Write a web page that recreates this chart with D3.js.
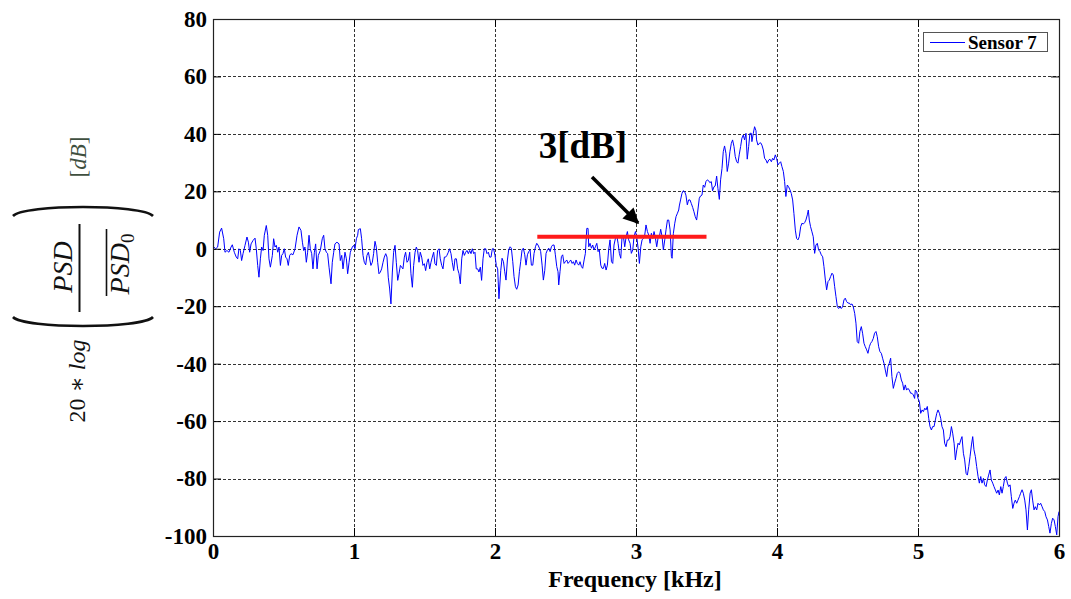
<!DOCTYPE html>
<html>
<head>
<meta charset="utf-8">
<script src="https://cdn.jsdelivr.net/npm/d3@7"></script>
<style>
  html, body { margin: 0; padding: 0; background: #fff; }
  svg { display: block; }
</style>
</head>
<body>
<svg id="chart" width="1071" height="599"></svg>
<script>
// Sensor 7 normalised power spectral density, 20*log(PSD / mean PSD0) in dB
const freqKHz = [
  0.000,0.019,0.033,0.047,0.061,0.076,0.085,0.099,0.113,0.128,0.137,0.151,0.165,0.175,0.184,0.194,0.203,0.213,0.227,0.241,
  0.251,0.260,0.270,0.284,0.298,0.307,0.317,0.326,0.336,0.345,0.355,0.364,0.378,0.388,0.397,0.407,0.421,0.430,0.440,0.449,
  0.459,0.468,0.478,0.487,0.496,0.506,0.515,0.525,0.534,0.544,0.553,0.567,0.582,0.596,0.610,0.624,0.634,0.643,0.652,0.662,
  0.671,0.681,0.690,0.700,0.709,0.719,0.728,0.738,0.747,0.761,0.775,0.785,0.794,0.804,0.813,0.823,0.837,0.846,0.856,0.865,
  0.879,0.894,0.903,0.913,0.922,0.936,0.946,0.955,0.965,0.974,0.988,0.998,1.007,1.017,1.026,
  1.031,1.045,1.054,1.064,1.073,1.083,1.092,1.102,1.111,1.120,1.130,1.139,1.149,1.158,1.168,1.177,1.187,1.196,1.206,1.215,
  1.225,1.234,1.243,1.253,1.262,1.272,1.281,1.291,1.300,1.310,1.319,1.329,1.338,1.347,1.357,1.366,1.376,1.385,1.395,1.404,
  1.414,1.423,1.433,1.442,1.451,1.461,1.470,1.480,1.489,1.499,1.508,1.518,1.527,1.537,1.546,1.555,1.565,1.574,1.584,1.593,
  1.603,1.612,1.622,1.631,1.641,1.650,1.659,1.669,1.678,1.688,1.697,1.707,1.716,1.726,1.735,1.745,1.754,1.764,1.773,1.783,
  1.792,1.801,1.811,1.820,1.830,1.839,1.849,1.858,1.867,1.877,1.886,1.896,1.905,1.915,1.924,1.934,1.943,1.953,1.962,1.972,
  1.981,1.990,2.000,2.009,2.019,2.028,
  2.041,2.050,2.060,2.069,2.078,2.088,2.097,2.107,2.116,2.126,2.135,2.145,2.154,2.164,2.173,2.182,2.192,2.201,2.211,2.220,
  2.230,2.239,2.249,2.258,2.268,2.277,2.287,2.296,2.305,2.315,2.324,2.334,2.343,2.353,2.362,2.372,2.381,2.391,2.400,2.409,
  2.419,2.428,2.438,2.447,2.452,2.461,2.471,2.480,2.490,2.499,2.509,2.518,2.528,2.537,2.547,2.556,2.565,2.575,2.584,2.594,
  2.603,2.613,2.622,2.632,2.641,2.651,2.660,2.665,2.674,2.684,2.693,2.703,2.712,2.722,2.731,2.740,2.750,2.759,2.769,2.778,
  2.788,2.797,2.806,2.816,2.826,2.835,2.844,2.854,2.863,2.873,2.882,2.892,2.901,2.911,2.920,2.930,2.939,2.948,2.958,2.967,
  2.977,2.986,2.996,3.005,3.015,3.024,3.034,3.043,3.053,3.062,3.071,3.081,3.090,3.100,3.109,3.119,3.128,3.138,3.147,3.156,
  3.166,3.175,3.185,3.194,3.204,3.213,3.223,3.232,3.242,3.251,3.256,3.265,3.275,3.284,3.294,3.303,
  3.307,3.316,3.326,3.335,3.345,3.354,3.364,3.373,3.383,3.392,3.402,3.411,3.420,3.430,3.439,3.449,3.458,3.468,3.477,3.487,
  3.496,3.506,3.515,3.524,3.534,3.543,3.553,3.562,3.572,3.581,3.591,3.600,3.610,3.619,3.628,3.638,3.647,3.657,3.666,3.676,
  3.685,3.695,3.704,3.714,3.723,3.732,3.742,3.751,3.761,3.770,3.780,3.789,3.799,3.808,3.818,3.822,3.832,3.841,3.851,3.855,
  3.865,3.874,3.884,3.893,3.903,3.912,3.922,3.931,3.941,3.950,3.960,3.969,3.978,3.988,3.997,4.007,4.016,4.026,4.035,4.045,
  4.054,4.063,4.073,4.082,4.092,4.101,4.111,4.120,4.130,4.139,4.149,4.158,4.168,4.177,4.186,4.196,4.205,4.215,4.222,4.229,
  4.238,4.248,4.257,4.267,4.276,4.286,4.295,4.305,4.314,4.324,4.333,4.343,4.352,4.362,4.371,4.380,4.390,4.399,4.409,4.418,
  4.428,4.437,4.447,4.456,4.465,4.475,4.484,4.494,4.503,4.513,4.522,4.532,4.541,4.551,4.560,4.569,4.579,4.588,4.598,4.607,
  4.617,4.626,4.636,4.645,4.655,4.664,4.673,4.683,4.692,4.702,4.711,4.721,4.730,4.740,4.749,4.759,4.768,4.778,4.787,4.796,
  4.806,4.815,4.825,4.834,4.844,4.853,4.863,4.872,4.882,4.891,4.900,4.910,4.919,4.929,4.938,4.948,4.957,4.967,4.976,
  4.981,4.991,5.000,5.010,5.019,5.029,5.038,5.048,5.057,5.066,5.076,5.085,5.095,5.104,5.114,5.123,5.133,5.142,5.152,5.161,
  5.170,5.180,5.189,5.199,5.208,5.218,5.227,5.237,5.246,5.256,5.265,5.275,5.284,5.293,5.303,5.312,5.322,5.331,5.341,5.350,
  5.360,5.369,5.379,5.388,5.397,5.407,5.416,5.426,5.435,5.445,5.454,5.464,5.473,5.483,5.492,5.501,5.511,5.520,5.530,5.539,
  5.549,5.558,5.568,5.577,5.587,5.596,5.605,5.615,5.624,5.634,5.643,5.653,5.662,5.672,5.681,5.690,5.700,5.709,5.719,5.728,
  5.738,5.747,5.757,5.766,5.776,5.785,5.795,5.804,5.813,5.823,5.832,5.842,5.851,5.861,5.870,5.880,5.889,5.899,5.908,5.918,
  5.927,5.936,5.946,5.955,5.965,5.974,5.984,5.993,6.000
];
const levelDb = [
  0.9,0.0,0.6,5.8,7.2,3.5,-1.2,-0.6,-1.2,0.6,1.4,-1.2,-2.9,-3.5,0.0,-0.6,-4.1,-1.7,1.2,4.1,
  2.3,-1.2,1.7,2.9,3.7,0.0,-5.8,-9.9,-3.5,0.6,-0.6,4.7,8.1,4.7,-3.5,-6.4,-2.3,3.5,0.6,1.2,
  -1.2,0.6,-5.8,-2.3,-1.7,0.0,-2.9,-3.5,-5.8,-2.3,-1.7,-2.1,0.0,4.7,7.6,6.4,2.3,-0.6,0.6,-4.7,
  -1.2,4.7,0.0,-1.7,-7.0,-1.2,1.7,-7.0,-2.3,-0.6,3.5,4.7,0.0,-1.2,-1.7,-6.4,-12.2,-4.7,-1.2,1.7,
  2.3,1.7,-4.1,-2.3,-7.0,-1.2,-3.5,-8.7,-4.7,-1.2,0.6,1.2,0.0,3.5,4.7,
  6.7,7.0,3.5,-2.3,-4.7,-5.6,-2.3,-1.2,-3.5,-5.8,-4.7,-1.7,2.6,0.6,-4.7,-8.7,-8.1,-7.0,-4.7,-2.9,
  -1.7,-2.9,-9.9,-14.0,-19.2,-8.1,-1.2,1.2,-4.7,-11.0,-8.7,-5.8,-6.4,-7.0,-2.9,-1.2,-4.7,-4.1,-1.2,-8.7,
  -13.4,-5.8,-1.2,0.6,-0.6,-4.7,-1.2,-2.9,-5.8,-5.2,-7.6,-4.7,-3.5,-7.0,-4.7,-2.9,-1.2,-5.2,-5.8,-0.6,
  0.0,-3.5,-5.8,-7.0,-2.9,-2.9,-2.3,-1.2,0.0,-1.7,-4.7,-7.6,-3.5,-3.5,-7.0,-8.7,-12.2,-3.5,-0.6,-2.3,
  -1.2,-0.6,-1.7,-0.6,-1.7,0.0,-1.7,-1.2,-7.0,-7.0,-8.1,-6.4,-11.0,-3.5,0.0,0.0,-1.7,-1.2,-2.9,-2.9,
  0.0,0.0,-2.3,-5.8,-7.0,-17.4,
  -7.5,-3.3,-4.5,-8.0,-10.9,-3.9,-0.4,0.7,0.2,-4.5,-9.7,-13.2,-14.1,-12.6,-8.0,-4.5,-0.4,0.2,-2.1,-5.7,
  -2.1,-1.0,-0.4,-5.7,-5.7,-1.6,0.7,1.9,1.3,0.2,-1.0,-5.7,-10.9,-7.5,-1.6,-0.4,0.2,-1.0,0.7,1.3,
  1.3,-2.1,-6.2,-8.0,-12.6,-8.0,-2.7,-2.1,-5.1,-4.5,-3.9,-5.1,-4.5,-3.9,-5.1,-4.5,-5.7,-3.9,-5.1,-5.7,
  -4.5,-6.2,-6.8,-3.9,-1.6,7.1,7.1,0.7,1.9,0.2,1.3,-0.4,0.7,1.9,-1.0,-0.4,-5.7,-6.8,-6.8,-5.1,
  -7.4,-5.7,-0.4,3.1,-4.5,-5.1,1.3,3.6,4.8,1.9,-1.6,-3.3,4.2,4.2,0.7,4.2,6.0,3.1,1.9,-1.6,
  -0.4,4.2,6.0,4.2,0.2,-5.1,0.7,3.1,3.6,4.8,8.3,6.0,4.8,1.9,5.4,3.6,6.0,3.6,0.7,3.6,
  4.2,6.8,4.2,-0.4,3.1,6.6,10.0,10.0,6.6,-2.7,-3.3,5.4,8.9,11.2,12.4,13.5,
  14.9,17.0,19.3,20.2,19.9,18.7,15.3,17.0,17.0,15.8,14.4,12.9,11.2,10.0,13.5,17.6,18.4,18.7,22.2,21.4,
  23.4,24.0,23.7,23.0,23.4,20.2,21.6,21.9,25.3,21.0,17.2,24.0,28.0,33.8,35.8,33.2,26.9,29.8,33.8,36.7,
  37.9,35.6,32.1,30.3,29.8,32.7,35.6,38.5,39.6,37.9,40.2,31.2,35.6,40.2,40.2,37.3,40.2,42.5,41.1,37.9,
  36.1,36.7,36.9,36.1,34.4,31.5,30.9,29.8,30.9,31.2,30.3,31.5,30.9,32.7,31.5,29.2,29.8,30.3,28.6,26.9,
  23.4,18.2,22.2,21.6,20.5,19.3,17.0,12.3,6.5,3.6,3.1,4.2,7.7,8.9,8.6,9.1,10.0,11.8,13.5,10.0,
  7.7,5.9,4.2,-1.6,1.3,1.9,-0.4,-1.0,-2.1,-2.8,-6.2,-10.9,-14.3,-11.4,-10.9,-9.7,-8.5,-9.1,-13.2,-16.6,
  -20.2,-20.8,-20.2,-20.8,-20.2,-17.8,-17.2,-18.4,-18.9,-18.9,-19.5,-19.2,-20.2,-22.5,-25.9,-32.3,-32.9,-28.8,-27.1,-29.4,
  -32.9,-34.1,-35.2,-36.4,-34.1,-32.9,-32.3,-31.2,-29.4,-28.8,-30.6,-34.1,-35.8,-36.4,-38.1,-39.9,-42.2,-44.5,-41.0,-39.9,
  -38.1,-44.5,-48.6,-46.8,-45.1,-43.4,-42.8,-43.4,-45.7,-46.8,-49.2,-47.4,-49.2,-48.6,-49.2,-50.3,-50.3,-50.9,-52.1,
  -49.2,-49.8,-52.1,-53.2,-57.3,-56.1,-56.7,-55.5,-56.1,-54.9,-59.0,-61.9,-63.1,-61.9,-61.9,-59.6,-57.3,-56.1,-57.3,-59.0,
  -61.9,-63.1,-67.7,-68.9,-66.6,-66.6,-65.4,-61.9,-64.2,-67.7,-73.5,-70.0,-67.7,-68.3,-66.6,-65.4,-71.2,-73.5,-78.2,-78.8,
  -75.8,-72.4,-68.3,-65.4,-70.0,-72.4,-75.8,-79.3,-81.6,-79.3,-81.6,-79.9,-82.2,-82.8,-80.5,-78.8,-77.0,-80.5,-81.6,-82.8,
  -84.0,-85.1,-84.0,-85.7,-82.8,-85.1,-82.8,-79.9,-79.3,-81.6,-82.8,-82.2,-86.3,-90.4,-88.6,-87.5,-88.6,-87.5,-86.3,-85.1,
  -83.9,-85.1,-87.5,-90.9,-97.9,-90.9,-85.1,-83.9,-87.5,-90.9,-89.8,-90.9,-88.6,-89.2,-88.6,-89.8,-90.9,-91.5,-93.3,-94.4,
  -96.7,-99.0,-95.6,-93.8,-94.4,-96.7,-99.6,-93.3,-91.5
];

// Axis ticks
const xTicks = [0, 1, 2, 3, 4, 5, 6];
const yTicks = [-100, -80, -60, -40, -20, 0, 20, 40, 60, 80];

// Highlighted band level and its annotation
const bandFreq = [2.3, 3.5];
const bandLevel = [4.2, 4.2];
const bandLabel = "3[dB]";
const seriesName = "Sensor 7";

const svg = d3.select("#chart");
const W = 1071, H = 599;
const plot = { left: 213, right: 1059, top: 19, bottom: 536 };

const x = d3.scaleLinear().domain([0, 6]).range([plot.left, plot.right]);
const y = d3.scaleLinear().domain([-100, 80]).range([plot.bottom, plot.top]);

svg.append("rect").attr("width", W).attr("height", H).attr("fill", "#fff");

const serif = "Liberation Serif, Times New Roman, DejaVu Serif, serif";

// Dotted grid
const grid = svg.append("g").attr("stroke", "#333").attr("stroke-width", 1).attr("stroke-dasharray", "3,2");
grid.selectAll(".gx").data(xTicks.slice(1, -1)).join("line")
  .attr("x1", d => Math.round(x(d)) + 0.5).attr("x2", d => Math.round(x(d)) + 0.5)
  .attr("y1", plot.top).attr("y2", plot.bottom);
grid.selectAll(".gy").data(yTicks.slice(1, -1)).join("line")
  .attr("y1", d => Math.round(y(d)) + 0.5).attr("y2", d => Math.round(y(d)) + 0.5)
  .attr("x1", plot.left).attr("x2", plot.right);

// Spectrum line
const line = d3.line().x((d, i) => x(freqKHz[i])).y(d => y(d));
svg.append("path")
  .datum(levelDb)
  .attr("fill", "none")
  .attr("stroke", "#0000ff")
  .attr("stroke-width", 1)
  .attr("stroke-linejoin", "round")
  .attr("d", line);

// Axes with inward ticks on all four sides
const plainNumber = d => String(d);
function styleAxis(g) {
  g.attr("font-family", serif).attr("font-size", 23).attr("font-weight", "bold");
  g.selectAll(".domain").remove();
  g.selectAll("line").attr("stroke", "#000");
  g.selectAll("text")
    .style("font-family", serif)
    .style("font-weight", "bold")
    .style("font-size", "23px")
    .attr("fill", "#000");
}
svg.append("g").attr("transform", `translate(0,${plot.bottom})`)
  .call(d3.axisBottom(x).tickValues(xTicks).tickFormat(plainNumber).tickSize(-8).tickPadding(7))
  .call(styleAxis);
svg.append("g").attr("transform", `translate(0,${plot.top})`)
  .call(d3.axisTop(x).tickValues(xTicks).tickFormat("").tickSize(-8))
  .call(styleAxis);
svg.append("g").attr("transform", `translate(${plot.left},0)`)
  .call(d3.axisLeft(y).tickValues(yTicks).tickFormat(plainNumber).tickSize(-8).tickPadding(6))
  .call(styleAxis);
svg.append("g").attr("transform", `translate(${plot.right},0)`)
  .call(d3.axisRight(y).tickValues(yTicks).tickFormat("").tickSize(-8))
  .call(styleAxis);

// Frame
svg.append("rect")
  .attr("x", plot.left + 0.5).attr("y", plot.top + 0.5)
  .attr("width", plot.right - plot.left).attr("height", plot.bottom - plot.top)
  .attr("fill", "none").attr("stroke", "#222").attr("stroke-width", 1.2);

// X-axis title
svg.append("text")
  .attr("x", (plot.left + plot.right) / 2 - 1).attr("y", 587)
  .attr("text-anchor", "middle")
  .style("font-family", serif).style("font-weight", "bold").style("font-size", "24px")
  .text("Frequency [kHz]");

// Y-axis title: 20*log( PSD / overline{PSD_0} ) [dB], rotated
const yl = svg.append("g").style("font-family", serif).attr("fill", "#111");
const pre = yl.append("text")
  .attr("transform", "translate(85,381) rotate(-90)")
  .attr("text-anchor", "middle").style("font-size", "24px");
pre.append("tspan").text("20 \u2217 ");
pre.append("tspan").style("font-style", "italic").text("log");
// large parentheses
yl.append("path")
  .attr("d", "M13,317 C24,329 142,329 153,317")
  .attr("fill", "none").attr("stroke", "#111").attr("stroke-width", 2.6);
yl.append("path")
  .attr("d", "M13,216 C24,204 142,204 153,216")
  .attr("fill", "none").attr("stroke", "#111").attr("stroke-width", 2.6);
// numerator
yl.append("text")
  .attr("transform", "translate(72,267) rotate(-90)")
  .attr("text-anchor", "middle").style("font-size", "28px").style("font-style", "italic")
  .text("PSD");
// fraction bar
yl.append("line").attr("x1", 79.5).attr("x2", 79.5).attr("y1", 224).attr("y2", 312)
  .attr("stroke", "#111").attr("stroke-width", 2);
// denominator with overline
const den = yl.append("text")
  .attr("transform", "translate(129,264) rotate(-90)")
  .attr("text-anchor", "middle").style("font-size", "28px").style("font-style", "italic");
den.append("tspan").text("PSD");
den.append("tspan").style("font-size", "19px").style("font-style", "normal").attr("dy", 5).text("0");
yl.append("line").attr("x1", 106.5).attr("x2", 106.5).attr("y1", 229).attr("y2", 296)
  .attr("stroke", "#111").attr("stroke-width", 1.6);
const unit = yl.append("text")
  .attr("transform", "translate(86,157) rotate(-90)")
  .attr("text-anchor", "middle").style("font-size", "23px").attr("fill", "#3f4f3f");
unit.append("tspan").text("[");
unit.append("tspan").style("font-style", "italic").text("dB");
unit.append("tspan").text("]");

// Highlighted level band
svg.append("line")
  .attr("x1", x(bandFreq[0])).attr("x2", x(bandFreq[1]))
  .attr("y1", y(bandLevel[0])).attr("y2", y(bandLevel[1]))
  .attr("stroke", "#ff1a1a").attr("stroke-width", 4);

// Annotation arrow and label
svg.append("defs").append("marker")
  .attr("id", "arrowhead").attr("viewBox", "0 0 10 10")
  .attr("refX", 9).attr("refY", 5)
  .attr("markerWidth", 4.5).attr("markerHeight", 4.5).attr("markerUnits", "strokeWidth")
  .attr("orient", "auto")
  .append("path").attr("d", "M0,0 L10,5 L0,10 Z").attr("fill", "#000");
svg.append("line")
  .attr("x1", 592).attr("y1", 177).attr("x2", 638).attr("y2", 223)
  .attr("stroke", "#000").attr("stroke-width", 3.5)
  .attr("marker-end", "url(#arrowhead)");
svg.append("text")
  .attr("x", 583).attr("y", 158)
  .attr("text-anchor", "middle")
  .style("font-family", serif).style("font-weight", "bold").style("font-size", "37px")
  .text(bandLabel);

// Legend
const lg = svg.append("g");
lg.append("rect").attr("x", 923.5).attr("y", 32.5).attr("width", 124).attr("height", 19)
  .attr("fill", "#fff").attr("stroke", "#555").attr("stroke-width", 1);
lg.append("line").attr("x1", 930).attr("x2", 965).attr("y1", 42.5).attr("y2", 42.5)
  .attr("stroke", "#0000ff").attr("stroke-width", 1);
lg.append("text").attr("x", 968).attr("y", 48.5)
  .style("font-family", serif).style("font-weight", "bold").style("font-size", "19px")
  .text(seriesName);
</script>
</body>
</html>
